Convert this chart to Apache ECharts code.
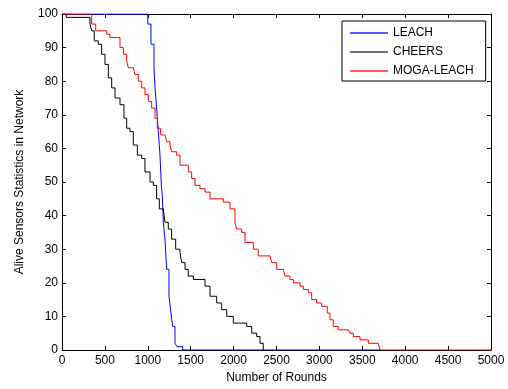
<!DOCTYPE html>
<html>
<head>
<meta charset="utf-8">
<script src="https://cdn.jsdelivr.net/npm/echarts@6/dist/echarts.min.js"></script>
<style>
  html, body { margin: 0; padding: 0; background: #fff; }
  #chart { width: 508px; height: 389px; }
</style>
</head>
<body>
<div id="chart"></div>
<script>
// values (rounds, alive sensors)
const leachRounds = [0, 960, 1000, 1037, 1072, 1084, 1103, 1123, 1142, 1158, 1169, 1181, 1200, 1220, 1247, 1270, 1290, 1317, 1340, 1370, 1406, 3700]
const leachAlive  = [100, 100, 97, 91, 84, 78, 72, 65, 58, 49, 46, 38, 33, 24, 16, 11, 7, 2, 1, 1, 0, 0]

const cheersRounds = [0, 50, 268, 326, 346, 376, 423, 462, 501, 540,
  579, 618, 676, 722, 754, 792, 831, 878, 929, 967,
  1026, 1064, 1103, 1134, 1181, 1200, 1239, 1278, 1325, 1375,
  1395, 1434, 1472, 1531, 1608, 1667, 1725, 1803, 1861, 1920,
  1997, 2094, 2153, 2211, 2269, 2308, 2346]
const cheersAlive = [100, 99, 99, 97, 95, 92, 91, 88, 85, 81,
  78, 75, 73, 69, 66, 65, 61, 58, 57, 53,
  50, 49, 45, 42, 42, 38, 36, 33, 30, 29,
  26, 24, 22, 21, 21, 19, 16, 14, 12, 10,
  8, 8, 7, 5, 4, 2, 0]

const mogaRounds = [0, 307, 346, 393, 521, 559, 637, 676, 715, 754,
  773, 831, 851, 889, 929, 967, 1006, 1045, 1084, 1111,
  1150, 1200, 1220, 1259, 1278, 1336, 1375, 1434, 1472, 1511,
  1550, 1608, 1667, 1725, 1841, 1880, 1958, 2016, 2036, 2094,
  2133, 2230, 2288, 2424, 2444, 2502, 2580, 2599, 2657, 2696,
  2774, 2813, 2871, 2910, 2968, 3026, 3092, 3123, 3162, 3220,
  3337, 3356, 3395, 3473, 3570, 3686, 3706, 5000]
const mogaAlive = [100, 100, 97, 95, 94, 93, 93, 90, 88, 86,
  84, 84, 82, 80, 78, 76, 74, 72, 69, 66,
  64, 64, 62, 61, 59, 58, 55, 55, 53, 51,
  49, 48, 47, 45, 45, 44, 42, 38, 36, 35,
  32, 30, 28, 28, 26, 24, 24, 22, 21, 20,
  19, 18, 17, 15, 14, 13, 11, 9, 7, 6,
  6, 5, 4, 3, 2, 2, 0, 0]

const seriesNames = ['LEACH', 'CHEERS', 'MOGA-LEACH']
const seriesColors = ['#0000ff', '#000000', '#ff0000']
const legendColors = ['#5a5aff', '#707070', '#ff5a5a']

function zip(xs, ys) {
  return xs.map((x, i) => [x, ys[i]])
}

const font = 'Liberation Sans, Arial, sans-serif'
const myChart = echarts.init(document.getElementById('chart'))

const xCommon = {
  type: 'value', min: 0, max: 5000, interval: 500,
  axisLine: { show: true, onZero: false, lineStyle: { color: '#000', width: 1 } },
  axisTick: { show: true, inside: true, length: 4, lineStyle: { color: '#000' } },
  splitLine: { show: false }
}
const yCommon = {
  type: 'value', min: 0, max: 100, interval: 10,
  axisLine: { show: true, onZero: false, lineStyle: { color: '#000', width: 1 } },
  axisTick: { show: true, inside: true, length: 4, lineStyle: { color: '#000' } },
  splitLine: { show: false }
}

myChart.setOption({
  animation: false,
  backgroundColor: '#fff',
  grid: { left: 62, right: 17, top: 14, bottom: 36 },
  legend: {
    data: seriesNames.map((n, i) => ({ name: n, icon: 'rect', itemStyle: { color: legendColors[i] } })),
    orient: 'vertical',
    left: 342, top: 21,
    padding: [5, 12, 3, 8],
    itemWidth: 38, itemHeight: 2, itemGap: 5,
    backgroundColor: '#fff',
    borderColor: '#000', borderWidth: 1, borderRadius: 0,
    textStyle: { fontFamily: font, fontSize: 12, color: '#000', lineHeight: 14 }
  },
  xAxis: [
    Object.assign({}, xCommon, {
      position: 'bottom',
      name: 'Number of Rounds', nameLocation: 'middle', nameGap: 22,
      nameTextStyle: { fontFamily: font, fontSize: 12, color: '#000' },
      axisLabel: { fontFamily: font, fontSize: 12, color: '#000', margin: 5, formatter: v => String(v) }
    }),
    Object.assign({}, xCommon, { position: 'top', axisLabel: { show: false } })
  ],
  yAxis: [
    Object.assign({}, yCommon, {
      position: 'left',
      name: 'Alive Sensors Statistics in Network', nameLocation: 'middle', nameGap: 36,
      nameTextStyle: { fontFamily: font, fontSize: 12, color: '#000' },
      axisLabel: { fontFamily: font, fontSize: 12, color: '#000', margin: 4 }
    }),
    Object.assign({}, yCommon, { position: 'right', axisLabel: { show: false } })
  ],
  series: [
    { name: 'LEACH', data: zip(leachRounds, leachAlive) },
    { name: 'CHEERS', data: zip(cheersRounds, cheersAlive) },
    { name: 'MOGA-LEACH', data: zip(mogaRounds, mogaAlive) }
  ].map((s, i) => ({
    name: s.name,
    type: 'line',
    step: 'end',
    symbol: 'none',
    data: s.data,
    color: seriesColors[i],
    lineStyle: { color: seriesColors[i], width: 1 }
  }))
})
</script>
</body>
</html>
